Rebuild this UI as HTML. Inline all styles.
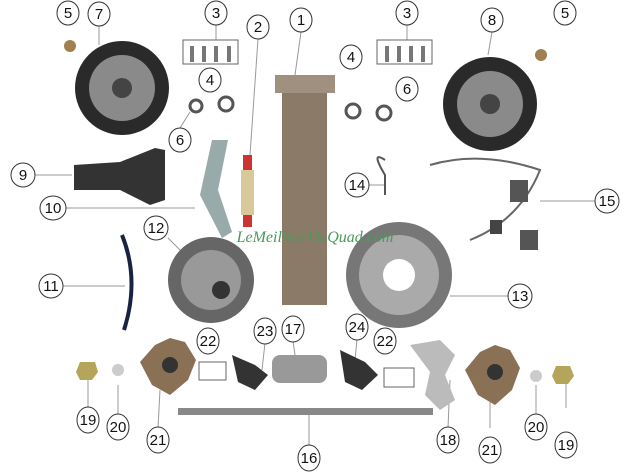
<!DOCTYPE html>
<html><head><meta charset="utf-8"><style>
html,body{margin:0;padding:0;background:#fff;width:633px;height:475px;overflow:hidden}
svg{display:block}
text{font-family:"Liberation Sans",sans-serif;font-size:15px;text-anchor:middle;fill:#111}
</style></head><body>
<svg width="633" height="475" viewBox="0 0 633 475" xmlns="http://www.w3.org/2000/svg">
<g stroke="#999" stroke-width="1" fill="none">
<line x1="99" y1="26" x2="99" y2="45"/>
<line x1="216" y1="25" x2="216" y2="40"/>
<line x1="407" y1="25" x2="407" y2="40"/>
<line x1="258" y1="39" x2="250" y2="155"/>
<line x1="301" y1="32" x2="295" y2="75"/>
<line x1="492" y1="32" x2="488" y2="55"/>
<line x1="180" y1="128" x2="190" y2="112"/>
<line x1="35" y1="175" x2="72" y2="175"/>
<line x1="65" y1="208" x2="195" y2="208"/>
<line x1="63" y1="286" x2="125" y2="286"/>
<line x1="369" y1="185" x2="385" y2="185"/>
<line x1="595" y1="201" x2="540" y2="201"/>
<line x1="508" y1="296" x2="450" y2="296"/>
<line x1="168" y1="238" x2="185" y2="255"/>
<line x1="88" y1="408" x2="88" y2="380"/>
<line x1="118" y1="415" x2="118" y2="385"/>
<line x1="158" y1="428" x2="160" y2="390"/>
<line x1="309" y1="446" x2="309" y2="415"/>
<line x1="448" y1="428" x2="450" y2="380"/>
<line x1="490" y1="428" x2="490" y2="395"/>
<line x1="536" y1="415" x2="536" y2="385"/>
<line x1="566" y1="408" x2="566" y2="380"/>
<line x1="265" y1="343" x2="262" y2="370"/>
<line x1="293" y1="341" x2="295" y2="355"/>
<line x1="357" y1="339" x2="355" y2="360"/>
</g>
<!-- parts -->
<circle cx="122" cy="88" r="47" fill="#2a2a2a"/><circle cx="122" cy="88" r="33" fill="#8a8a8a"/><circle cx="122" cy="88" r="10" fill="#444"/>
<circle cx="490" cy="104" r="47" fill="#2a2a2a"/><circle cx="490" cy="104" r="33" fill="#8a8a8a"/><circle cx="490" cy="104" r="10" fill="#444"/>
<circle cx="70" cy="46" r="6" fill="#a08050"/><circle cx="541" cy="55" r="6" fill="#a08050"/>
<rect x="183" y="40" width="55" height="24" fill="none" stroke="#666"/>
<rect x="377" y="40" width="55" height="24" fill="none" stroke="#666"/>
<g fill="#777"><rect x="190" y="46" width="4" height="16"/><rect x="202" y="46" width="4" height="16"/><rect x="214" y="46" width="4" height="16"/><rect x="227" y="46" width="4" height="16"/>
<rect x="385" y="46" width="4" height="16"/><rect x="397" y="46" width="4" height="16"/><rect x="409" y="46" width="4" height="16"/><rect x="421" y="46" width="4" height="16"/></g>
<g fill="none" stroke="#555" stroke-width="3"><circle cx="196" cy="106" r="6"/><circle cx="226" cy="104" r="7"/><circle cx="353" cy="111" r="7"/><circle cx="384" cy="113" r="7"/></g>
<polygon points="74,165 120,162 155,148 165,150 165,200 150,205 120,190 74,190" fill="#333"/>
<path d="M212,140 L228,140 L218,190 L232,232 L222,238 L200,195 Z" fill="#9aa"/>
<rect x="243" y="155" width="9" height="72" fill="#c33"/><rect x="241" y="170" width="13" height="45" fill="#d8c89a"/>
<rect x="282" y="75" width="45" height="230" fill="#8b7a68"/><rect x="275" y="75" width="60" height="18" fill="#a09080"/>
<circle cx="211" cy="280" r="43" fill="#666"/><circle cx="211" cy="280" r="30" fill="#999"/><circle cx="221" cy="290" r="9" fill="#333"/>
<path d="M122,235 Q140,280 124,330" stroke="#1a2244" stroke-width="4" fill="none"/>
<circle cx="399" cy="275" r="53" fill="#777"/><circle cx="399" cy="275" r="40" fill="#aaa"/><circle cx="399" cy="275" r="16" fill="#fff"/>
<path d="M385,160 Q370,150 385,175 L385,195" stroke="#555" stroke-width="2" fill="none"/>
<path d="M430,165 Q480,150 540,170 Q520,220 470,240" stroke="#666" stroke-width="2" fill="none"/>
<rect x="510" y="180" width="18" height="22" fill="#555"/><rect x="520" y="230" width="18" height="20" fill="#555"/><rect x="490" y="220" width="12" height="14" fill="#444"/>
<polygon points="170,338 185,342 196,360 188,380 170,395 152,385 140,362 155,345" fill="#8a7055"/><circle cx="170" cy="365" r="8" fill="#333"/>
<polygon points="495,345 510,350 520,368 512,390 495,405 478,395 465,370 480,352" fill="#8a7055"/><circle cx="495" cy="372" r="8" fill="#333"/>
<rect x="199" y="362" width="27" height="18" fill="none" stroke="#666"/>
<rect x="384" y="368" width="30" height="19" fill="none" stroke="#666"/>
<polygon points="232,355 255,365 268,375 255,390 238,382" fill="#333"/>
<polygon points="340,350 365,362 378,375 362,390 345,382" fill="#333"/>
<rect x="272" y="355" width="55" height="28" rx="8" fill="#999"/>
<rect x="178" y="408" width="255" height="7" fill="#888"/>
<polygon points="410,345 440,340 455,355 445,375 455,400 440,410 425,395 430,372" fill="#bbb"/>
<polygon points="80,362 95,362 98,372 92,380 80,380 76,372" fill="#b5a55a"/><circle cx="118" cy="370" r="6" fill="#ccc"/>
<polygon points="556,366 570,366 574,376 568,384 556,384 552,376" fill="#b5a55a"/><circle cx="536" cy="376" r="6" fill="#ccc"/>
<text x="315" y="242" style="font-size:16px;font-style:italic;fill:#4a9a5a;font-family:'Liberation Serif',serif">LeMeilleurDuQuad.com</text>
<!-- labels -->
<g fill="#fff" stroke="#333" stroke-width="1">
<ellipse cx="68" cy="13" rx="11" ry="12"/><ellipse cx="99" cy="14" rx="11" ry="12"/>
<ellipse cx="216" cy="13" rx="11" ry="12"/><ellipse cx="258" cy="27" rx="11" ry="12"/>
<ellipse cx="301" cy="20" rx="11" ry="12"/><ellipse cx="407" cy="13" rx="11" ry="12"/>
<ellipse cx="492" cy="20" rx="11" ry="12"/><ellipse cx="565" cy="13" rx="11" ry="12"/>
<ellipse cx="210" cy="80" rx="11" ry="12"/><ellipse cx="351" cy="57" rx="11" ry="12"/>
<ellipse cx="407" cy="89" rx="11" ry="12"/><ellipse cx="180" cy="140" rx="11" ry="12"/>
<ellipse cx="23" cy="175" rx="12" ry="12"/><ellipse cx="53" cy="208" rx="13" ry="12"/>
<ellipse cx="357" cy="185" rx="12" ry="12"/><ellipse cx="607" cy="201" rx="12" ry="12"/>
<ellipse cx="156" cy="228" rx="12" ry="12"/><ellipse cx="51" cy="286" rx="12" ry="12"/>
<ellipse cx="520" cy="296" rx="12" ry="12"/><ellipse cx="208" cy="341" rx="11" ry="13"/>
<ellipse cx="265" cy="331" rx="11" ry="13"/><ellipse cx="293" cy="329" rx="11" ry="13"/>
<ellipse cx="357" cy="327" rx="11" ry="13"/><ellipse cx="385" cy="341" rx="11" ry="13"/>
<ellipse cx="88" cy="420" rx="11" ry="13"/><ellipse cx="118" cy="427" rx="11" ry="13"/>
<ellipse cx="158" cy="440" rx="11" ry="13"/><ellipse cx="309" cy="458" rx="11" ry="13"/>
<ellipse cx="448" cy="440" rx="11" ry="13"/><ellipse cx="490" cy="450" rx="11" ry="13"/>
<ellipse cx="536" cy="427" rx="11" ry="13"/><ellipse cx="566" cy="445" rx="11" ry="13"/>
</g>
<g>
<text x="68" y="18">5</text><text x="99" y="19">7</text><text x="216" y="18">3</text><text x="258" y="32">2</text>
<text x="301" y="25">1</text><text x="407" y="18">3</text><text x="492" y="25">8</text><text x="565" y="18">5</text>
<text x="210" y="85">4</text><text x="351" y="62">4</text><text x="407" y="94">6</text><text x="180" y="145">6</text>
<text x="23" y="180">9</text><text x="53" y="213">10</text><text x="357" y="190">14</text><text x="607" y="206">15</text>
<text x="156" y="233">12</text><text x="51" y="291">11</text><text x="520" y="301">13</text><text x="208" y="346">22</text>
<text x="265" y="336">23</text><text x="293" y="334">17</text><text x="357" y="332">24</text><text x="385" y="346">22</text>
<text x="88" y="425">19</text><text x="118" y="432">20</text><text x="158" y="445">21</text><text x="309" y="463">16</text>
<text x="448" y="445">18</text><text x="490" y="455">21</text><text x="536" y="432">20</text><text x="566" y="450">19</text>
</g>
</svg>
</body></html>
